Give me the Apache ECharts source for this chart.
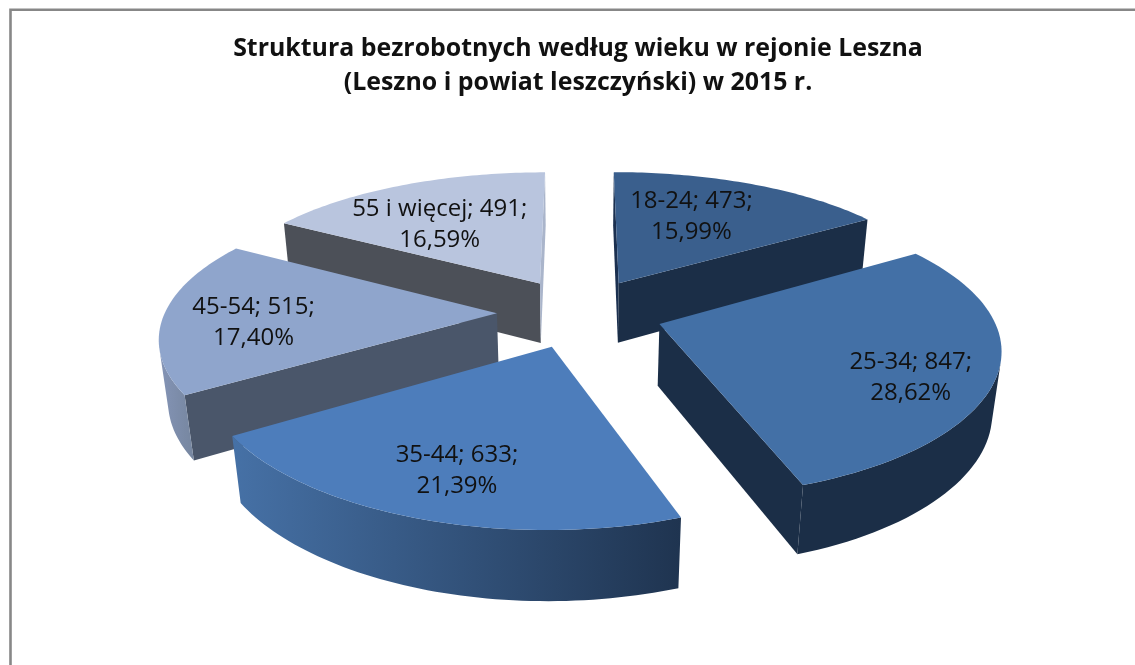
<!DOCTYPE html>
<html><head><meta charset="utf-8">
<style>html,body{margin:0;padding:0;background:#fff}#c{width:1135px;height:665px}</style>
<script src="https://cdn.jsdelivr.net/npm/echarts@6/dist/echarts.min.js"></script></head>
<body><div id="c"></div>
<script>
const categories = ['18-24','25-34','35-44','45-54','55 i więcej'];
const counts = [473,847,633,515,491];
const percentLabels = ['15,99%','28,62%','21,39%','17,40%','16,59%'];
const titleLines = ['Struktura bezrobotnych według wieku w rejonie Leszna','(Leszno i powiat leszczyński) w 2015 r.'];

// Projection of the tilted, exploded pie
const view = {cx:580, cy:312.5, rx:332, ry:139, perspX:0.15, perspY:0.17, depth:62.5, depthPersp:0.022, explode:0.25};
// Label placement inside each slice (radial fraction, turn in degrees off the mid-angle)
const labelFrac = [.62,.78,.755,.726,.60];
const labelTurn = [-4.5,8,-.9,-4,-5];
const colors = {
  top:     ['#3a5f8d','#4370a6','#4d7dbb','#8fa5cc','#b9c5de'],
  cutStart:['#1b3050','#1b2e47','#2a4466','#4a566a','#4c5058'],
  cutEnd:  ['#1b2e47','#1b2e47','#2a4466','#4a566a','#aab5cb'],
  outerL:  ['#1b2e47','#1b2e47','#4671a6','#8494b6','#aab5cb'],
  outerR:  ['#1b2e47','#1b2e47','#1f3450','#76869f','#aab5cb']
};
const total = counts.reduce((a,b)=>a+b,0);
const spans = []; let acc = 0;
counts.forEach(v=>{ const a0=acc/total*2*Math.PI; acc+=v; spans.push([a0,acc/total*2*Math.PI]); });

function proj(X,Y,z){
  const wx = 1 - view.perspX*Y + view.depthPersp*z;
  const wy = 1 - view.perspY*Y + view.depthPersp*z;
  return [view.cx + view.rx*X/wx, view.cy + (view.ry*Y + view.depth*z)/wy];
}
function area(p){let s=0;for(let i=0;i<p.length;i++){const a=p[i],b=p[(i+1)%p.length];s+=a[0]*b[1]-b[0]*a[1];}return s/2;}
function quad(a,b){ return [proj(a[0],a[1],0),proj(b[0],b[1],0),proj(b[0],b[1],1),proj(a[0],a[1],1)]; }

function renderSlice(params, api){
  const i = params.dataIndex;
  api.value(0);
  const [a0,a1] = spans[i], mid=(a0+a1)/2;
  const ax = view.explode*Math.sin(mid), ay = -view.explode*Math.cos(mid);
  const rim = [];
  const n = 60;
  for(let k=0;k<=n;k++){ const a=a0+(a1-a0)*k/n; rim.push([ax+Math.sin(a), ay-Math.cos(a)]); }
  const apex=[ax,ay];
  const children=[];
  const base = Math.round((ay+1)*100);
  // cut faces, only those turned to the viewer
  const f1=quad(apex,rim[0]), f2=quad(rim[n],apex);
  if(area(f1)<0) children.push({type:'polygon',z2:base,shape:{points:f1},style:{fill:colors.cutStart[i]}});
  if(area(f2)<0) children.push({type:'polygon',z2:base,shape:{points:f2},style:{fill:colors.cutEnd[i]}});
  // outer wall: the part that faces the viewer
  let run=[];
  const flush=()=>{ if(run.length>1){
      const up=run.map(q=>proj(q[0],q[1],0)), dn=run.map(q=>proj(q[0],q[1],1)).reverse();
      children.push({type:'polygon',z2:base+1,shape:{points:up.concat(dn)},
        style:{fill:new echarts.graphic.LinearGradient(0,0,1,0,[{offset:0,color:colors.outerL[i]},{offset:1,color:colors.outerR[i]}])}});
    } run=[]; };
  for(let k=0;k<n;k++){
    const q=quad(rim[k],rim[k+1]);
    if(area(q)<0){ if(!run.length) run.push(rim[k]); run.push(rim[k+1]); } else flush();
  }
  flush();
  // top
  const top=[proj(ax,ay,0)].concat(rim.map(q=>proj(q[0],q[1],0)));
  children.push({type:'polygon',z2:base+2,shape:{points:top},style:{fill:colors.top[i]}});
  // label
  const la=mid+labelTurn[i]*Math.PI/180, lr=labelFrac[i];
  const lp=proj(ax+lr*Math.sin(la), ay-lr*Math.cos(la),0);
  children.push({type:'text',z2:1000,style:{x:lp[0],y:lp[1],text:categories[i]+'; '+counts[i]+';\n'+percentLabels[i],
     align:'center',verticalAlign:'middle',font:'24px "Open Sans"',lineHeight:31,fill:'#111'}});
  return {type:'group',children};
}

const chart = echarts.init(document.getElementById('c'),null,{renderer:'canvas'});
chart.setOption({
  animation:false,
  backgroundColor:'#fff',
  title:{text:titleLines.join('\n'),left:573,top:27,textAlign:'center',
    textStyle:{fontFamily:'Open Sans',fontWeight:'bold',fontSize:24.9,lineHeight:34,color:'#111'}},
  graphic:[
    {type:'rect',shape:{x:10.5,y:9.8,width:1200,height:800},style:{fill:null,stroke:'#878787',lineWidth:2.6},silent:true}
  ],
  series:[{type:'custom',coordinateSystem:'none',data:counts,renderItem:renderSlice,clip:false}]
});
</script></body></html>
